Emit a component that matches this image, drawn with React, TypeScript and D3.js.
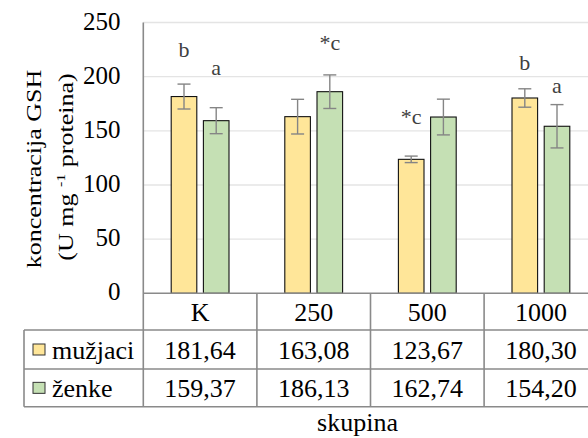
import React from "react";
import * as d3 from "d3";

const categories = ["K", "250", "500", "1000"];
const seriesNames = ["mužjaci", "ženke"];
const maleValues = [181.64, 163.08, 123.67, 180.3];
const femaleValues = [159.37, 186.13, 162.74, 154.2];
const maleErrors = [11.5, 16, 3, 8.5];
const femaleErrors = [12, 15.5, 16.5, 20];
const maleLetters = ["b", "", "*c", "b"];
const femaleLetters = ["a", "*c", "", "a"];
const maleLetterAt = [218, 0, 156, 206];
const femaleLetterAt = [201.5, 224.5, 0, 185];
const yTicks = [0, 50, 100, 150, 200, 250];
const seriesColors = ["#FFE699", "#C5E0B4"];

const W = 588;
const H = 438;
const FONT = "Liberation Serif";

function T(props: any) {
  const { x, y, anchor = "start", size = 26, fill = "#000", children } = props;
  return (
    <text
      x={x}
      y={y}
      textAnchor={anchor}
      fill={fill}
      style={{ fontFamily: FONT, fontSize: size + "px" }}
    >
      {children}
    </text>
  );
}

export default function App() {
  const plotLeft = 143.3;
  const plotRight = 597.7;
  const yBottom = 293.3;
  const yTop = 22.5;
  const row1 = 330;
  const row2 = 369;
  const tableBottom = 406.7;
  const tableLeft = 24;
  const lineColor = "#8a8a8a";

  const x = d3.scaleBand<string>().domain(categories).range([plotLeft, plotRight]);
  const x1 = d3.scaleBand<string>().domain(seriesNames).range([-28.9, 28.9]).paddingInner(0.205);
  const y = d3.scaleLinear().domain([0, 250]).range([yBottom, yTop]);

  const series = [
    { name: seriesNames[0], values: maleValues, errors: maleErrors, letters: maleLetters, letterAt: maleLetterAt, color: seriesColors[0] },
    { name: seriesNames[1], values: femaleValues, errors: femaleErrors, letters: femaleLetters, letterAt: femaleLetterAt, color: seriesColors[1] },
  ];

  const fmt = (v: number) => d3.format(".2f")(v).replace(".", ",");
  const bw = x1.bandwidth();
  const rowMid = [(yBottom + row1) / 2, (row1 + row2) / 2, (row2 + tableBottom) / 2];

  return (
    <svg width={W} height={H} style={{ position: "absolute", left: 0, top: 0, display: "block" }}>
      <rect x={0} y={0} width={W} height={H} fill="#fff" />
      {yTicks.filter((t) => t > 0).map((t) => (
        <line key={t} x1={plotLeft} x2={plotRight} y1={y(t)} y2={y(t)} stroke="#e4e4e4" strokeWidth={1.3} />
      ))}
      {yTicks.map((t) => (
        <T key={t} x={120.5} y={y(t) + 7} anchor="end" size={25}>{t}</T>
      ))}
      {series.map((s) =>
        categories.map((c, i) => {
          const cx = (x(c) as number) + x.bandwidth() / 2 + (x1(s.name) as number);
          return (
            <rect key={s.name + c} x={cx} y={y(s.values[i])} width={bw} height={yBottom - y(s.values[i])}
              fill={s.color} stroke="#111" strokeWidth={1.1} />
          );
        })
      )}
      {series.map((s) =>
        categories.map((c, i) => {
          const cx = (x(c) as number) + x.bandwidth() / 2 + (x1(s.name) as number) + bw / 2;
          const top = y(s.values[i] + s.errors[i]);
          const bot = y(s.values[i] - s.errors[i]);
          return (
            <g key={"e" + s.name + c} stroke="#858585" strokeWidth={1.4}>
              <line x1={cx} x2={cx} y1={top} y2={bot} />
              <line x1={cx - 6.5} x2={cx + 6.5} y1={top} y2={top} />
              <line x1={cx - 6.5} x2={cx + 6.5} y1={bot} y2={bot} />
            </g>
          );
        })
      )}
      {series.map((s) =>
        categories.map((c, i) => {
          if (!s.letters[i]) return null;
          const cx = (x(c) as number) + x.bandwidth() / 2 + (x1(s.name) as number) + bw / 2;
          return (
            <T key={"l" + s.name + c} x={cx} y={y(s.letterAt[i])} anchor="middle" size={22} fill="#404040">
              {s.letters[i]}
            </T>
          );
        })
      )}
      <g stroke={lineColor} strokeWidth={1.6}>
        <line x1={plotLeft} x2={plotLeft} y1={yTop} y2={tableBottom} />
        <line x1={plotLeft} x2={plotRight} y1={yBottom} y2={yBottom} />
        <line x1={tableLeft} x2={plotRight} y1={row1} y2={row1} />
        <line x1={tableLeft} x2={plotRight} y1={row2} y2={row2} />
        <line x1={tableLeft} x2={plotRight} y1={tableBottom} y2={tableBottom} />
        <line x1={tableLeft} x2={tableLeft} y1={row1} y2={tableBottom} />
        {categories.slice(1).map((c) => (
          <line key={"v" + c} x1={x(c) as number} x2={x(c) as number} y1={yBottom} y2={tableBottom} />
        ))}
        <line x1={plotRight} x2={plotRight} y1={yBottom} y2={tableBottom} />
      </g>
      {categories.map((c) => (
        <T key={"c" + c} x={(x(c) as number) + x.bandwidth() / 2} y={rowMid[0] + 9.5} anchor="middle">{c}</T>
      ))}
      {series.map((s, si) =>
        categories.map((c, i) => (
          <T key={"t" + s.name + c} x={(x(c) as number) + x.bandwidth() / 2} y={rowMid[si + 1] + 9.5} anchor="middle">
            {fmt(s.values[i])}
          </T>
        ))
      )}
      {series.map((s, si) => (
        <g key={"k" + s.name}>
          <rect x={33} y={rowMid[si + 1] - 5.5} width={12} height={11} fill={s.color} stroke="#333" strokeWidth={1} />
          <T x={52} y={rowMid[si + 1] + 9.5}>{s.name}</T>
        </g>
      ))}
      <T x={357.5} y={430.5} anchor="middle">skupina</T>
      <g fill="#000" style={{ fontFamily: FONT, fontSize: "26px" }}>
        <text transform={`translate(41,169) rotate(-90) scale(1,0.8)`} textAnchor="middle">
          koncentracija GSH
        </text>
        <text transform={`translate(73,167) rotate(-90) scale(1,0.8)`} textAnchor="middle">
          (U mg <tspan style={{ fontSize: "16px" }} dy={-10}>-1</tspan><tspan dy={10}> proteina)</tspan>
        </text>
      </g>
    </svg>
  );
}
